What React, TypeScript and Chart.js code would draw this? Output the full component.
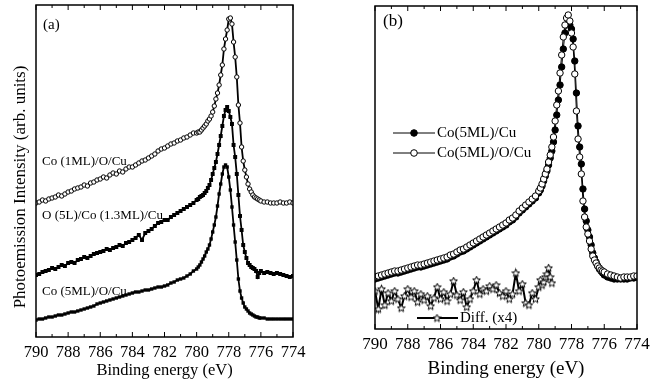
import React, { useEffect, useRef } from "react";
import { Chart, registerables } from "chart.js";

Chart.register(...registerables);

// ---------- data ----------
const energy = [
  790.0, 789.8, 789.6, 789.4, 789.2, 789.0, 788.8, 788.6, 788.4, 788.2,
  788.0, 787.8, 787.6, 787.4, 787.2, 787.0, 786.8, 786.6, 786.4, 786.2,
  786.0, 785.8, 785.6, 785.4, 785.2, 785.0, 784.8, 784.6, 784.4, 784.2,
  784.0, 783.8, 783.6, 783.4, 783.2, 783.0, 782.8, 782.6, 782.4, 782.2,
  782.0, 781.8, 781.6, 781.4, 781.2, 781.0, 780.8, 780.6, 780.4, 780.2,
  780.0, 779.9, 779.8, 779.7, 779.6, 779.5, 779.4, 779.3, 779.2, 779.1,
  779.0, 778.9, 778.8, 778.7, 778.6, 778.5, 778.4, 778.3, 778.2, 778.1,
  778.0, 777.9, 777.8, 777.7, 777.6, 777.5, 777.4, 777.3, 777.2, 777.1,
  777.0, 776.9, 776.8, 776.7, 776.6, 776.5, 776.4, 776.3, 776.2, 776.1,
  776.0, 775.8, 775.6, 775.4, 775.2, 775.0, 774.8, 774.6, 774.4, 774.2, 774.0,
];

const xTicks = [790, 788, 786, 784, 782, 780, 778, 776, 774];
const xMinorTicks = [789, 787, 785, 783, 781, 779, 777, 775];

// panel (a)
const coOneMLOCu = [
  134, 135, 137, 136, 138, 139, 140, 142, 141, 143,
  145, 146, 148, 149, 150, 152, 151, 154, 155, 157,
  158, 160, 159, 162, 164, 163, 166, 165, 168, 170,
  170, 172, 174, 176, 177, 179, 181, 183, 186, 188,
  189, 191, 193, 194, 196, 197, 199, 200, 202, 204,
  204, 205, 205, 207, 209, 211, 213, 216, 218, 221,
  225, 231, 238, 244, 252, 262, 272, 288, 298, 307,
  318, 319, 313, 295, 280, 260, 232, 214, 190, 176,
  167, 160, 153, 148, 145, 142, 140, 139, 138, 137,
  136, 135, 135, 134, 134, 134, 135, 134, 134, 135, 134,
];

const oFiveLCoOnePointThreeMLCu = [
  62, 63, 65, 66, 67, 69, 68, 70, 72, 71,
  74, 75, 74, 77, 78, 80, 79, 81, 83, 84,
  85, 86, 88, 87, 89, 90, 92, 91, 94, 95,
  97, 99, 102, 97, 104, 106, 108, 111, 114, 115,
  117, 117, 120, 122, 124, 126, 128, 130, 132, 134,
  137, 138, 140, 141, 142, 144, 146, 149, 152, 157,
  163, 169, 175, 183, 192, 201, 211, 221, 227, 230,
  226, 220, 213, 192, 180, 163, 142, 121, 107, 92,
  85, 79, 74, 72, 70, 69, 68, 66, 60, 64,
  66, 64, 65, 64, 63, 64, 63, 62, 61, 60, 61,
];

const coFiveMLOCuA = [
  17, 18, 18, 19, 20, 20, 21, 22, 22, 23,
  24, 25, 25, 26, 27, 28, 29, 30, 31, 33,
  34, 35, 36, 37, 38, 39, 40, 41, 42, 43,
  44, 45, 45, 46, 47, 47, 48, 49, 50, 50,
  51, 52, 54, 55, 57, 58, 59, 61, 63, 66,
  68, 70, 72, 75, 78, 81, 85, 88, 92, 98,
  105, 112, 120, 131, 143, 153, 163, 170, 172, 170,
  160, 147, 130, 112, 95, 77, 58, 46, 39, 34,
  30, 28, 26, 24, 23, 22, 21, 20, 20, 19,
  19, 19, 18, 18, 18, 18, 18, 18, 18, 18, 18,
];

// panel (b)
const coFiveMLCu = [
  50, 51, 52, 53, 54, 55, 56, 56, 57, 58,
  59, 60, 61, 62, 62, 63, 64, 65, 66, 67,
  68, 69, 70, 72, 73, 75, 77, 78, 80, 82,
  84, 86, 88, 90, 92, 94, 96, 98, 100, 102,
  104, 107, 109, 112, 116, 119, 122, 125, 128, 131,
  136, 139, 143, 148, 153, 158, 164, 171, 178, 187,
  199, 214, 229, 244, 262, 280, 296, 304, 306, 304,
  300, 290, 268, 236, 203, 182, 165, 140, 120, 108,
  99, 92, 84, 76, 71, 67, 63, 60, 58, 56,
  54, 52, 51, 50, 50, 50, 50, 50, 51, 51, 52,
];

const coFiveMLOCuB = [
  52, 53, 54, 55, 56, 57, 58, 58, 59, 60,
  61, 62, 63, 64, 64, 65, 66, 67, 68, 69,
  70, 71, 72, 74, 75, 77, 79, 80, 82, 84,
  86, 88, 90, 92, 94, 96, 98, 100, 102, 104,
  106, 109, 111, 114, 118, 121, 124, 127, 130, 133,
  138, 141, 145, 150, 155, 160, 167, 174, 182, 192,
  208, 224, 238, 256, 274, 292, 304, 311, 314, 308,
  296, 282, 255, 218, 190, 172, 155, 128, 112, 102,
  95, 88, 80, 73, 69, 66, 63, 61, 59, 58,
  57, 55, 54, 53, 52, 51, 52, 52, 52, 53, 53,
];

const diffX4 = [
  38, 20, 40, 24, 36, 28, 38, 30, 21, 33,
  40, 32, 38, 27, 35, 29, 33, 23, 31, 42,
  30, 37, 28, 35, 48, 34, 29, 37, 22, 30,
  38, 49, 35, 40, 38, 43, 40, 44, 36, 33,
  38, 30, 35, 56, 38, 45, 26, 24, 36, 30,
  42, 49, 44, 47, 52, 55, 61, 52, 46,
];

// ---------- helpers ----------
const FONT = "'Liberation Serif', 'Times New Roman', Times, serif";

function pts(xs: number[], ys: number[]) {
  return ys.map((y, i) => ({ x: xs[i], y }));
}

function makeStar(): HTMLCanvasElement {
  const c = document.createElement("canvas");
  c.width = 9;
  c.height = 9;
  const g = c.getContext("2d")!;
  g.beginPath();
  for (let i = 0; i < 10; i++) {
    const r = i % 2 === 0 ? 4 : 1.8;
    const a = -Math.PI / 2 + (i * Math.PI) / 5;
    const px = 4.5 + r * Math.cos(a);
    const py = 4.8 + r * Math.sin(a);
    if (i === 0) g.moveTo(px, py);
    else g.lineTo(px, py);
  }
  g.closePath();
  g.fillStyle = "#fff";
  g.fill();
  g.strokeStyle = "#000";
  g.lineWidth = 1;
  g.stroke();
  return c;
}

const framePlugin = {
  id: "frame",
  afterDatasetsDraw(chart: any) {
    const { ctx, chartArea: a, scales } = chart;
    const x = scales.x;
    ctx.save();
    ctx.strokeStyle = "#000";
    ctx.lineWidth = 1;
    for (const v of xTicks) {
      const px = x.getPixelForValue(v);
      ctx.beginPath();
      ctx.moveTo(px, a.bottom);
      ctx.lineTo(px, a.bottom - 5);
      ctx.moveTo(px, a.top);
      ctx.lineTo(px, a.top + 5);
      ctx.stroke();
    }
    for (const v of xMinorTicks) {
      const px = x.getPixelForValue(v);
      ctx.beginPath();
      ctx.moveTo(px, a.bottom);
      ctx.lineTo(px, a.bottom - 3);
      ctx.moveTo(px, a.top);
      ctx.lineTo(px, a.top + 3);
      ctx.stroke();
    }
    ctx.lineWidth = 1.5;
    ctx.strokeRect(a.left, a.top, a.right - a.left, a.bottom - a.top);
    ctx.restore();
  },
};

function xScale(height: number, tickSize: number, titleSize: number, tickPad: number, titlePad: number) {
  return {
    type: "linear",
    reverse: true,
    min: 774,
    max: 790,
    afterBuildTicks: (s: any) => {
      s.ticks = xTicks.map((v) => ({ value: v }));
    },
    afterFit: (s: any) => {
      s.height = height;
    },
    ticks: {
      color: "#000",
      font: { family: FONT, size: tickSize },
      padding: tickPad,
      maxRotation: 0,
      autoSkip: false,
      callback: (v: any) => String(v),
    },
    grid: { display: false, drawTicks: false },
    border: { display: false },
    title: {
      display: true,
      text: "Binding energy (eV)",
      color: "#000",
      font: { family: FONT, size: titleSize },
      padding: { top: 0, bottom: titlePad },
    },
  };
}

export default function App() {
  const refA = useRef<HTMLCanvasElement>(null);
  const refB = useRef<HTMLCanvasElement>(null);

  useEffect(() => {
    const star = makeStar();

    const textA = {
      id: "textA",
      afterDraw(chart: any) {
        const { ctx, chartArea: a } = chart;
        ctx.save();
        ctx.fillStyle = "#000";
        ctx.textBaseline = "middle";
        ctx.textAlign = "left";
        ctx.font = `15px ${FONT}`;
        ctx.fillText("(a)", a.left + 7, a.top + 20);
        ctx.font = `13px ${FONT}`;
        ctx.fillText("Co (1ML)/O/Cu", a.left + 6, a.top + 157);
        ctx.fillText("O (5L)/Co (1.3ML)/Cu", a.left + 6, a.top + 211);
        ctx.fillText("Co (5ML)/O/Cu", a.left + 6, a.top + 287);
        ctx.translate(21, 187);
        ctx.rotate(-Math.PI / 2);
        ctx.textAlign = "center";
        ctx.font = `17px ${FONT}`;
        ctx.fillText("Photoemission Intensity (arb. units)", 0, 0);
        ctx.restore();
      },
    };

    const textB = {
      id: "textB",
      afterDraw(chart: any) {
        const { ctx, chartArea: a } = chart;
        ctx.save();
        ctx.fillStyle = "#000";
        ctx.strokeStyle = "#000";
        ctx.textBaseline = "middle";
        ctx.textAlign = "left";
        ctx.font = `17px ${FONT}`;
        ctx.fillText("(b)", a.left + 8, a.top + 16);
        const rows = [
          { y: 133, fill: "#000", label: "Co(5ML)/Cu" },
          { y: 153, fill: "#fff", label: "Co(5ML)/O/Cu" },
        ];
        ctx.font = `15px ${FONT}`;
        for (const r of rows) {
          ctx.lineWidth = 1;
          ctx.beginPath();
          ctx.moveTo(a.left + 18, r.y);
          ctx.lineTo(a.left + 60, r.y);
          ctx.stroke();
          ctx.beginPath();
          ctx.arc(a.left + 39, r.y, 3.3, 0, Math.PI * 2);
          ctx.fillStyle = r.fill;
          ctx.fill();
          ctx.stroke();
          ctx.fillStyle = "#000";
          ctx.fillText(r.label, a.left + 62, r.y);
        }
        const dy = 318;
        ctx.lineWidth = 2;
        ctx.beginPath();
        ctx.moveTo(a.left + 42, dy);
        ctx.lineTo(a.left + 83, dy);
        ctx.stroke();
        ctx.drawImage(star, a.left + 62 - 4.5, dy - 4.5);
        ctx.fillText("Diff. (x4)", a.left + 85, dy);
        ctx.restore();
      },
    };

    const chartA = new Chart(refA.current!, {
      type: "line",
      data: {
        datasets: [
          {
            label: "Co (1ML)/O/Cu",
            data: pts(energy, coOneMLOCu),
            borderColor: "#000",
            borderWidth: 1.8,
            pointStyle: "circle",
            pointRadius: 2.2,
            pointBorderWidth: 1,
            pointBackgroundColor: "#fff",
            pointBorderColor: "#000",
            tension: 0,
          },
          {
            label: "O (5L)/Co (1.3ML)/Cu",
            data: pts(energy, oFiveLCoOnePointThreeMLCu),
            borderColor: "#000",
            borderWidth: 1.8,
            pointStyle: "rect",
            pointRadius: 2.8,
            pointBorderWidth: 0,
            pointBackgroundColor: "#000",
            pointBorderColor: "#000",
            tension: 0,
          },
          {
            label: "Co (5ML)/O/Cu",
            data: pts(energy, coFiveMLOCuA),
            borderColor: "#000",
            borderWidth: 1.8,
            pointStyle: "rect",
            pointRadius: 2.4,
            pointBorderWidth: 0,
            pointBackgroundColor: "#000",
            pointBorderColor: "#000",
            tension: 0,
          },
        ],
      } as any,
      options: {
        responsive: false,
        animation: false,
        devicePixelRatio: 1,
        layout: { padding: { left: 36, right: 37, top: 5, bottom: 0 } },
        plugins: { legend: { display: false }, tooltip: { enabled: false } },
        scales: {
          x: xScale(47, 16.5, 16.5, 6, 3) as any,
          y: { display: false, min: 0, max: 332 },
        },
      } as any,
      plugins: [framePlugin, textA],
    });

    const chartB = new Chart(refB.current!, {
      type: "line",
      data: {
        datasets: [
          {
            label: "Co(5ML)/O/Cu",
            data: pts(energy, coFiveMLOCuB),
            borderColor: "#000",
            borderWidth: 1,
            pointStyle: "circle",
            pointRadius: 3.2,
            pointBorderWidth: 1,
            pointBackgroundColor: "#fff",
            pointBorderColor: "#000",
            tension: 0,
            order: 0,
          },
          {
            label: "Co(5ML)/Cu",
            data: pts(energy, coFiveMLCu),
            borderColor: "#000",
            borderWidth: 1,
            pointStyle: "circle",
            pointRadius: 3.2,
            pointBorderWidth: 1,
            pointBackgroundColor: "#000",
            pointBorderColor: "#000",
            tension: 0,
            order: 1,
          },
          {
            label: "Diff. (x4)",
            data: pts(energy, diffX4),
            borderColor: "#000",
            borderWidth: 2,
            pointStyle: star,
            pointRadius: 4,
            tension: 0,
            order: 2,
          },
        ],
      } as any,
      options: {
        responsive: false,
        animation: false,
        devicePixelRatio: 1,
        layout: { padding: { left: 45, right: 20, top: 6, bottom: 0 } },
        plugins: { legend: { display: false }, tooltip: { enabled: false } },
        scales: {
          x: xScale(55, 17, 19, 5, 4) as any,
          y: { display: false, min: 0, max: 323 },
        },
      } as any,
      plugins: [framePlugin, textB],
    });

    return () => {
      chartA.destroy();
      chartB.destroy();
    };
  }, []);

  return (
    <div style={{ position: "absolute", left: 0, top: 0, width: 657, height: 384, background: "#fff" }}>
      <canvas ref={refA} width={330} height={384} style={{ position: "absolute", left: 0, top: 0, width: 330, height: 384 }} />
      <canvas ref={refB} width={327} height={384} style={{ position: "absolute", left: 330, top: 0, width: 327, height: 384 }} />
    </div>
  );
}
